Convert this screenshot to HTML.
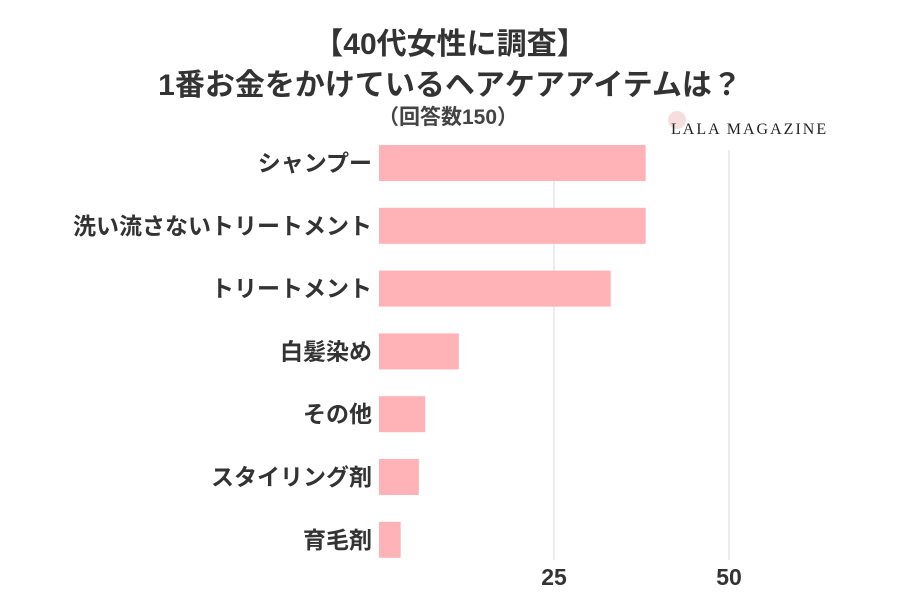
<!DOCTYPE html>
<html><head><meta charset="utf-8"><style>
body{margin:0;background:#fff;width:900px;height:600px;overflow:hidden;font-family:"Liberation Sans","Noto Sans CJK JP",sans-serif}
</style></head><body>
<svg width="900" height="600">
<text x="450" y="54" text-anchor="middle" font-size="30" font-weight="bold" fill="#333" font-family="Liberation Sans, Noto Sans CJK JP, sans-serif">【40代女性に調査】</text>
<text x="450" y="95" text-anchor="middle" font-size="30" font-weight="bold" fill="#333" font-family="Liberation Sans, Noto Sans CJK JP, sans-serif">1番お金をかけているヘアケアアイテムは？</text>
<text x="448" y="124" text-anchor="middle" font-size="21" font-weight="bold" fill="#444" font-family="Liberation Sans, Noto Sans CJK JP, sans-serif">（回答数150）</text>
<circle cx="677" cy="120" r="9" fill="#f6dede"/>
<text x="671" y="134" font-size="16" fill="#222" font-family="Liberation Serif, serif" letter-spacing="2">LALA MAGAZINE</text>
<g id="grid"></g><g id="bars"></g><g id="labels"></g>
</svg>
<script>
const categories=["シャンプー","洗い流さないトリートメント","トリートメント","白髪染め","その他","スタイリング剤","育毛剤"];
const values=[38.1,38.1,33.1,11.4,6.6,5.7,3.1];
const ticks=[25,50];
const NS="http://www.w3.org/2000/svg";
const x0=379,sc=7,top0=145,step=62.8,bh=36;
const xs=v=>x0+v*sc;
const g=document.getElementById('grid'),b=document.getElementById('bars'),l=document.getElementById('labels');
ticks.forEach(t=>{
const ln=document.createElementNS(NS,'line');


ln.setAttribute('x1',xs(t));ln.setAttribute('x2',xs(t));ln.setAttribute('y1',150);ln.setAttribute('y2',560);
ln.setAttribute('stroke','#e6e6e6');ln.setAttribute('stroke-width','1.5');g.appendChild(ln);
const tx=document.createElementNS(NS,'text');


tx.setAttribute('x',xs(t));tx.setAttribute('y',585);tx.setAttribute('text-anchor','middle');
tx.setAttribute('font-size','23');tx.setAttribute('font-weight','bold');tx.setAttribute('fill','#333');
tx.textContent=t;g.appendChild(tx);
});
categories.forEach((c,i)=>{
const y=top0+i*step;
const r=document.createElementNS(NS,'rect');


r.setAttribute('x',x0);r.setAttribute('y',y);r.setAttribute('width',values[i]*sc);r.setAttribute('height',bh);
r.setAttribute('fill','#ffb3b6');b.appendChild(r);
const t=document.createElementNS(NS,'text');


t.setAttribute('x',372);t.setAttribute('y',y+bh/2+8);t.setAttribute('text-anchor','end');
t.setAttribute('font-size','23');t.setAttribute('font-weight','bold');t.setAttribute('fill','#333');
t.textContent=c;l.appendChild(t);
});
</script>
</body></html>
